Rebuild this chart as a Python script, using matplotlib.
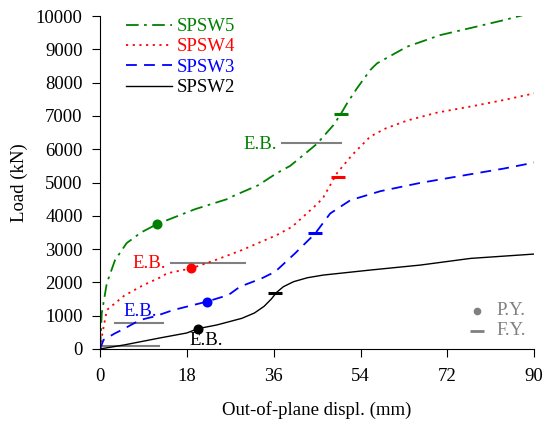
import matplotlib
matplotlib.use("Agg")
import matplotlib.pyplot as plt
import numpy as np

# Data
x5 = [0, 0.35, 1.4, 3.1, 5.5, 8.5, 11.8, 19.7, 26.3, 28, 32.8, 36.6, 39.4, 42.1, 44.6, 45.6,
      48.4, 49.9, 51.2, 53.2, 56, 57.4, 63.6, 70.5, 77, 83.7, 90]
y5 = [0, 1080, 1980, 2670, 3180, 3500, 3750, 4200, 4500, 4620, 4920, 5280, 5500, 5820, 6120, 6270,
      6730, 7060, 7380, 7820, 8380, 8580, 9080, 9430, 9650, 9880, 10120]

x4 = [0, 0.2, 1.4, 5, 9, 12.8, 13.8, 18.9, 23.9, 29.4, 36.6, 39.8, 45.2, 46.3, 49.1, 52.2,
      56, 59.1, 63.6, 69.8, 77.4, 83.7, 90]
y4 = [0, 250, 1170, 1600, 1920, 2170, 2270, 2420, 2670, 2970, 3420, 3670, 4380, 4560, 5280, 5820,
      6380, 6620, 6860, 7100, 7300, 7480, 7680]

x3 = [0, 0.7, 3.1, 4.5, 8.3, 11.4, 15.2, 22.1, 26.6, 29, 33.5, 36.3, 40.4, 44.6, 47.7, 51.9,
      58.1, 66.4, 76.8, 83.7, 90]
y3 = [0, 270, 470, 570, 870, 980, 1170, 1420, 1620, 1870, 2120, 2320, 2870, 3470, 4070,
      4470, 4740, 4990, 5250, 5420, 5600]

x2 = [0, 5, 12.4, 18, 20.3, 24.2, 29.4, 32, 34, 35.5, 36.6, 38, 40.1, 43, 46.3, 56, 66.4, 76.8, 89.9]
y2 = [0, 120, 330, 480, 610, 720, 920, 1080, 1280, 1500, 1700, 1870, 2020, 2140, 2220, 2370, 2520,
      2720, 2850]

# partial yield points (dots) and full yield points (dashes)
py_x = [11.8, 18.9, 22.1, 20.3]
py_y = [3750, 2420, 1420, 610]
fy_x = [49.9, 49.4, 44.6, 36.3]
fy_y = [7060, 5170, 3470, 1670]

# elastic buckling lines: (x start, x end, y)
eb_x0 = [37.8, 14.8, 3.1, 0.6]
eb_x1 = [50.0, 30.0, 13.1, 12.2]
eb_y = [6180, 2580, 770, 100]
eb_tx = [33.2, 10.2, 8.3, 22.0]
eb_ty = [6150, 2580, 1120, 240]

names = ['SPSW5', 'SPSW4', 'SPSW3', 'SPSW2']
colors = ['green', 'red', 'blue', 'black']
styles = [(0, (7, 3, 1.5, 3)), (0, (1.2, 2.5)), (0, (6, 4)), '-']

plt.rcParams['font.family'] = ['Liberation Serif', 'DejaVu Serif']
fs = 13.5

fig = plt.figure(figsize=(5.44, 4.25), dpi=100)
ax = fig.add_axes([0.184, 0.179, 0.798, 0.783])

xs = [x5, x4, x3, x2]
ys = [y5, y4, y3, y2]
for i in range(4):
    ax.plot(xs[i], ys[i], color=colors[i], linestyle=styles[i], lw=1.3 if i < 3 else 1.0,
            label=names[i])
    ax.plot([eb_x0[i], eb_x1[i]], [eb_y[i], eb_y[i]], color='gray', lw=1.5, zorder=1)
    ax.text(eb_tx[i], eb_ty[i], 'E.B.', color=colors[i], fontsize=fs,
            ha='center', va='center')
    ax.plot(py_x[i], py_y[i], 'o', color=colors[i], ms=6.2, zorder=4)
    ax.plot(fy_x[i], fy_y[i], '_', color=colors[i], ms=10, mew=2.2, zorder=4)

leg = ax.legend(loc='upper left', bbox_to_anchor=(0.02, 1.045), frameon=False,
                fontsize=fs, handlelength=2.45, handletextpad=0.27, labelspacing=0.17)
for t, c in zip(leg.get_texts(), colors):
    t.set_color(c)

# P.Y. / F.Y. key
ax.plot(78.2, 1140, 'o', color='gray', ms=4.5)
ax.text(82.2, 1140, 'P.Y.', color='gray', fontsize=fs, va='center')
ax.plot(78.2, 540, '_', color='gray', ms=10, mew=2)
ax.text(82.2, 540, 'F.Y.', color='gray', fontsize=fs, va='center')

ax.set_xlim(0, 90)
ax.set_ylim(0, 10000)
ax.set_xticks([0, 18, 36, 54, 72, 90])
ax.set_yticks(np.arange(0, 10001, 1000))
ax.tick_params(direction='out', labelsize=fs, length=5.5)
ax.tick_params(axis='y', pad=7)
ax.tick_params(axis='x', pad=8)
ax.spines['top'].set_visible(False)
ax.spines['right'].set_visible(False)
ax.set_xlabel('Out-of-plane displ. (mm)', fontsize=fs, labelpad=12)
ax.set_ylabel('Load (kN)', fontsize=fs, labelpad=6)

fig.savefig('out.png', dpi=100)
